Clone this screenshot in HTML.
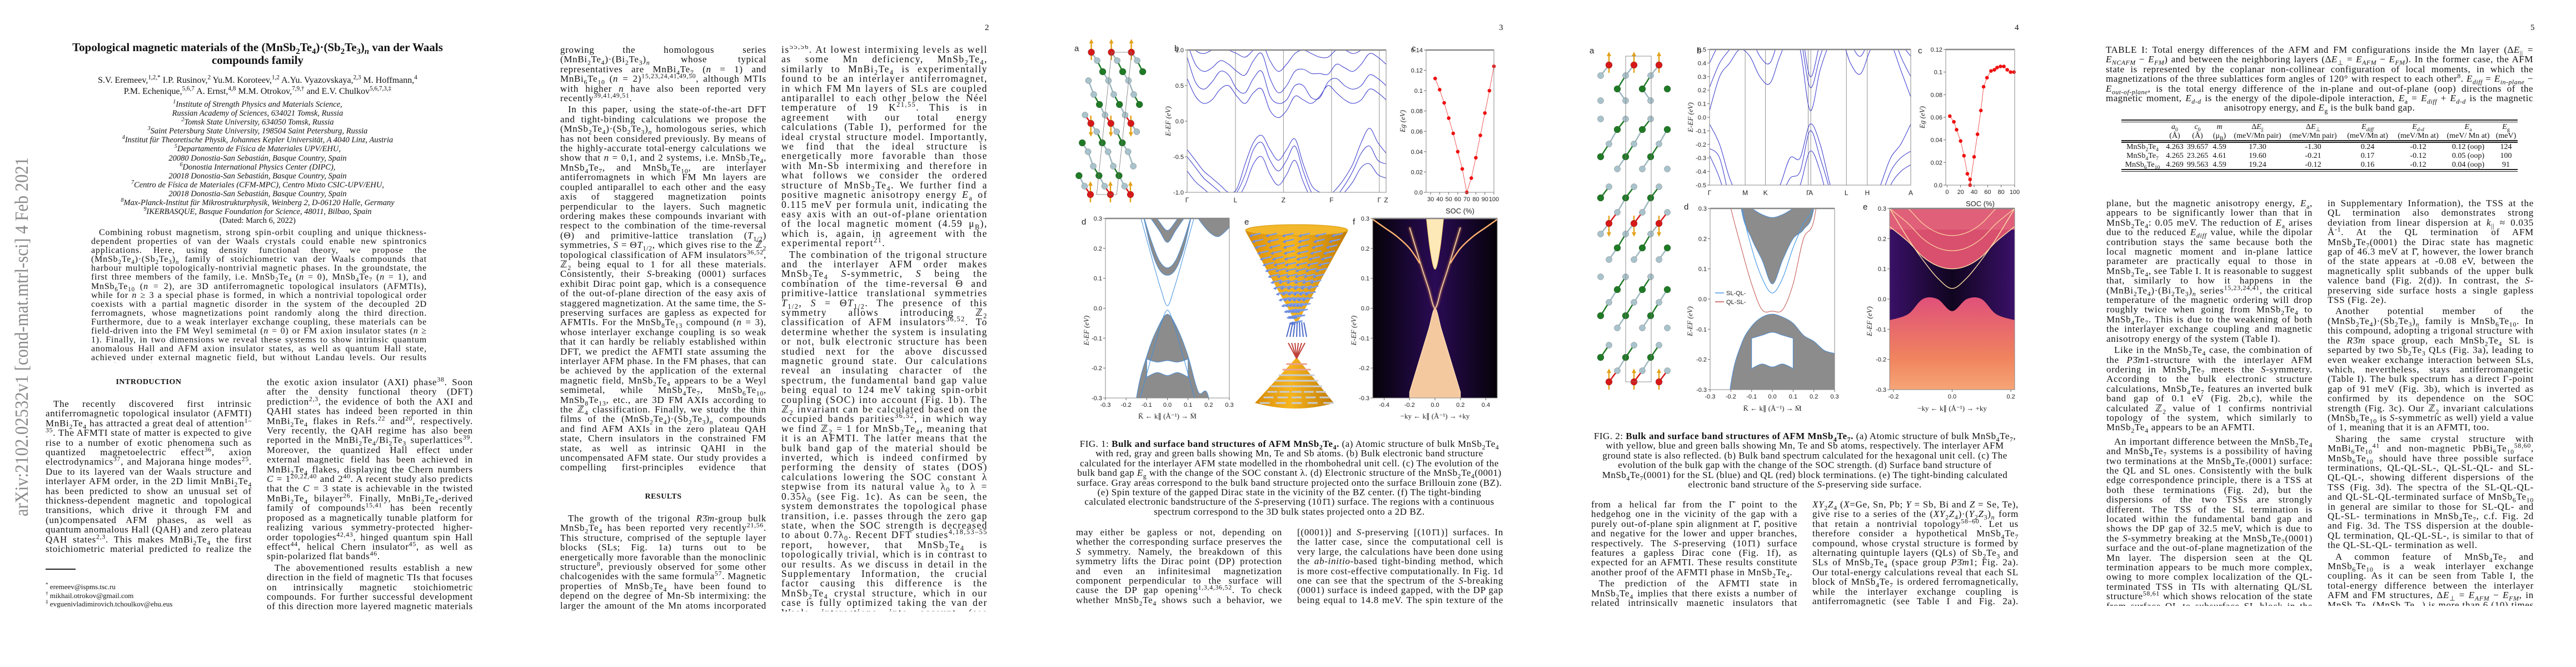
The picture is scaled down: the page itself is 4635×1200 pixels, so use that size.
<!DOCTYPE html>
<html><head><meta charset="utf-8">
<style>
body{margin:0;background:#fff;}
#page{position:relative;width:4635px;height:1200px;overflow:hidden;background:#fff;font-family:"Liberation Serif",serif;color:#111;}
.abs{position:absolute;}
.col{position:absolute;width:371px;font:17px/17.4px "Liberation Serif",serif;letter-spacing:0.7px;text-align:justify;overflow:hidden;}
.col p{margin:0 0 3px 0;text-indent:14px;}
sub,sup{line-height:0;font-size:70%;}
.pn{position:absolute;top:42px;font:15px "Liberation Serif",serif;}
.cap{position:absolute;font:17px/17.4px "Liberation Serif",serif;letter-spacing:0.5px;text-align:center;}
.head{position:absolute;font:bold 14px "Liberation Serif",serif;letter-spacing:0.5px;text-align:center;width:371px;}
#fig{position:absolute;left:0;top:0;}
table.t{border-collapse:collapse;font:14px/16px "Liberation Serif",serif;}
table.t td{padding:0;height:16px;white-space:nowrap;}
</style></head>
<body>
<div id="page">

<svg class="abs" style="left:0;top:0" width="70" height="1200">
<text x="0" y="0" transform="translate(50,929) rotate(-90)" textLength="646" lengthAdjust="spacingAndGlyphs" font-family="Liberation Serif" font-size="34" fill="#8a8a8a">arXiv:2102.02532v1  [cond-mat.mtrl-sci]  4 Feb 2021</text>
</svg>

<!-- PAGE 1 -->
<div class="abs" style="left:0;top:74px;width:927px;text-align:center;font:bold 21px/23px 'Liberation Serif',serif">Topological magnetic materials of the (MnSb<sub>2</sub>Te<sub>4</sub>)·(Sb<sub>2</sub>Te<sub>3</sub>)<sub><i>n</i></sub> van der Waals<br>compounds family</div>
<div class="abs" style="left:0;top:135px;width:927px;text-align:center;font:16px/20px 'Liberation Serif',serif">S.V. Eremeev,<sup>1,2,*</sup> I.P. Rusinov,<sup>2</sup> Yu.M. Koroteev,<sup>1,2</sup> A.Yu. Vyazovskaya,<sup>2,3</sup> M. Hoffmann,<sup>4</sup><br>P.M. Echenique,<sup>5,6,7</sup> A. Ernst,<sup>4,8</sup> M.M. Otrokov,<sup>7,9,†</sup> and E.V. Chulkov<sup>5,6,7,3,‡</sup></div>
<div class="abs" style="left:0;top:180px;width:927px;text-align:center;font:italic 14.5px/16.1px 'Liberation Serif',serif">
<sup>1</sup>Institute of Strength Physics and Materials Science,<br>Russian Academy of Sciences, 634021 Tomsk, Russia<br><sup>2</sup>Tomsk State University, 634050 Tomsk, Russia<br><sup>3</sup>Saint Petersburg State University, 198504 Saint Petersburg, Russia<br><sup>4</sup>Institut für Theoretische Physik, Johannes Kepler Universität, A 4040 Linz, Austria<br><sup>5</sup>Departamento de Física de Materiales UPV/EHU,<br>20080 Donostia-San Sebastián, Basque Country, Spain<br><sup>6</sup>Donostia International Physics Center (DIPC),<br>20018 Donostia-San Sebastián, Basque Country, Spain<br><sup>7</sup>Centro de Física de Materiales (CFM-MPC), Centro Mixto CSIC-UPV/EHU,<br>20018 Donostia-San Sebastián, Basque Country, Spain<br><sup>8</sup>Max-Planck-Institut für Mikrostrukturphysik, Weinberg 2, D-06120 Halle, Germany<br><sup>9</sup>IKERBASQUE, Basque Foundation for Science, 48011, Bilbao, Spain<br><span style="font-style:normal">(Dated: March 6, 2022)</span></div>
<div class="abs" style="left:164px;top:411px;width:604px;font:16px/16.1px 'Liberation Serif',serif;letter-spacing:0.8px;text-align:justify;text-indent:14px;height:242px;overflow:hidden">Combining robust magnetism, strong spin-orbit coupling and unique thickness-dependent properties of van der Waals crystals could enable new spintronics applications. Here, using density functional theory, we propose the (MnSb<sub>2</sub>Te<sub>4</sub>)·(Sb<sub>2</sub>Te<sub>3</sub>)<sub><i>n</i></sub> family of stoichiometric van der Waals compounds that harbour multiple topologically-nontrivial magnetic phases. In the groundstate, the first three members of the family, i.e. MnSb<sub>2</sub>Te<sub>4</sub> (<i>n</i> = 0), MnSb<sub>4</sub>Te<sub>7</sub> (<i>n</i> = 1), and MnSb<sub>6</sub>Te<sub>10</sub> (<i>n</i> = 2), are 3D antiferromagnetic topological insulators (AFMTIs), while for <i>n</i> ≥ 3 a special phase is formed, in which a nontrivial topological order coexists with a partial magnetic disorder in the system of the decoupled 2D ferromagnets, whose magnetizations point randomly along the third direction. Furthermore, due to a weak interlayer exchange coupling, these materials can be field-driven into the FM Weyl semimetal (<i>n</i> = 0) or FM axion insulator states (<i>n</i> ≥ 1). Finally, in two dimensions we reveal these systems to show intrinsic quantum anomalous Hall and AFM axion insulator states, as well as quantum Hall state, achieved under external magnetic field, but without Landau levels. Our results provide a solid computational proof that MnSb<sub>2</sub>Te<sub>4</sub> is not topologically trivial as was previously believed that opens possibilities of realization of a wealth of topologically-nontrivial states in the (MnSb<sub>2</sub>Te<sub>4</sub>)·(Sb<sub>2</sub>Te<sub>3</sub>)<sub><i>n</i></sub> family.</div>
<div class="head" style="left:82px;top:680px">INTRODUCTION</div>
<div class="col" style="left:82px;top:718px;height:280px"><p>The recently discovered first intrinsic antiferromagnetic topological insulator (AFMTI) MnBi<sub>2</sub>Te<sub>4</sub> has attracted a great deal of attention<sup>1–35</sup>. The AFMTI state of matter is expected to give rise to a number of exotic phenomena such as quantized magnetoelectric effect<sup>36</sup>, axion electrodynamics<sup>37</sup>, and Majorana hinge modes<sup>25</sup>. Due to its layered van der Waals structure and interlayer AFM order, in the 2D limit MnBi<sub>2</sub>Te<sub>4</sub> has been predicted to show an unusual set of thickness-dependent magnetic and topological transitions, which drive it through FM and (un)compensated AFM phases, as well as quantum anomalous Hall (QAH) and zero plateau QAH states<sup>2,3</sup>. This makes MnBi<sub>2</sub>Te<sub>4</sub> the first stoichiometric material predicted to realize the zero plateau QAH state intrinsically, which has been theoretically shown to host</p></div>
<div class="abs" style="left:82px;top:1023px;width:54px;height:2px;background:#222"></div>
<div class="abs" style="left:82px;top:1048px;font:13px/15.6px 'Liberation Serif',serif"><sup>*</sup> eremeev@ispms.tsc.ru<br><sup>†</sup> mikhail.otrokov@gmail.com<br><sup>‡</sup> evguenivladimirovich.tchoulkov@ehu.eus</div>
<div class="col" style="left:480px;top:679px;height:421px"><p style="text-indent:0">the exotic axion insulator (AXI) phase<sup>38</sup>. Soon after the density functional theory (DFT) prediction<sup>2,3</sup>, the evidence of both the AXI and QAHI states has indeed been reported in thin MnBi<sub>2</sub>Te<sub>4</sub> flakes in Refs.<sup>22</sup> and<sup>20</sup>, respectively. Very recently, the QAH regime has also been reported in the MnBi<sub>2</sub>Te<sub>4</sub>/Bi<sub>2</sub>Te<sub>3</sub> superlattices<sup>39</sup>. Moreover, the quantized Hall effect under external magnetic field has been achieved in MnBi<sub>2</sub>Te<sub>4</sub> flakes, displaying the Chern numbers <i>C</i> = 1<sup>20,22,40</sup> and 2<sup>40</sup>. A recent study also predicts that the <i>C</i> = 3 state is achievable in the twisted MnBi<sub>2</sub>Te<sub>4</sub> bilayer<sup>26</sup>. Finally, MnBi<sub>2</sub>Te<sub>4</sub>-derived family of compounds<sup>15,41</sup> has been recently proposed as a magnetically tunable platform for realizing various symmetry-protected higher-order topologies<sup>42,43</sup>, hinged quantum spin Hall effect<sup>44</sup>, helical Chern insulator<sup>45</sup>, as well as spin-polarized flat bands<sup>46</sup>.</p><p>The abovementioned results establish a new direction in the field of magnetic TIs that focuses on intrinsically magnetic stoichiometric compounds. For further successful development of this direction more layered magnetic materials need to be found. Currently, the quest for new MnBi<sub>2</sub>Te<sub>4</sub>-like systems follows the strategy of either codoping Bi sublattice with Sb<sup>18,21,47,48</sup> or</p></div>

<!-- PAGE 2 -->
<div class="pn" style="left:1772px">2</div>
<div class="col" style="left:1008px;top:81px;height:768px"><p style="text-indent:0">growing the homologous series (MnBi<sub>2</sub>Te<sub>4</sub>)·(Bi<sub>2</sub>Te<sub>3</sub>)<sub><i>n</i></sub> whose typical representatives are MnBi<sub>4</sub>Te<sub>7</sub> (<i>n</i> = 1) and MnBi<sub>6</sub>Te<sub>10</sub> (<i>n</i> = 2)<sup>15,23,24,41,49,50</sup>, although MTIs with higher <i>n</i> have also been reported very recently<sup>39,41,49,51</sup>.</p><p>In this paper, using the state-of-the-art DFT and tight-binding calculations we propose the (MnSb<sub>2</sub>Te<sub>4</sub>)·(Sb<sub>2</sub>Te<sub>3</sub>)<sub><i>n</i></sub> homologous series, which has not been considered previously. By means of the highly-accurate total-energy calculations we show that <i>n</i> = 0,1, and 2 systems, i.e. MnSb<sub>2</sub>Te<sub>4</sub>, MnSb<sub>4</sub>Te<sub>7</sub>, and MnSb<sub>6</sub>Te<sub>10</sub>, are interlayer antiferromagnets in which FM Mn layers are coupled antiparallel to each other and the easy axis of staggered magnetization points perpendicular to the layers. Such magnetic ordering makes these compounds invariant with respect to the combination of the time-reversal (Θ) and primitive-lattice translation (<i>T</i><sub>1/2</sub>) symmetries, <i>S</i> = Θ<i>T</i><sub>1/2</sub>, which gives rise to the ℤ<sub>2</sub> topological classification of AFM insulators<sup>36,52</sup>, ℤ<sub>2</sub> being equal to 1 for all these materials. Consistently, their <i>S</i>-breaking (0001) surfaces exhibit Dirac point gap, which is a consequence of the out-of-plane direction of the easy axis of staggered magnetization. At the same time, the <i>S</i>-preserving surfaces are gapless as expected for AFMTIs. For the MnSb<sub>8</sub>Te<sub>13</sub> compound (<i>n</i> = 3), whose interlayer exchange coupling is so weak that it can hardly be reliably established within DFT, we predict the AFMTI state assuming the interlayer AFM phase. In the FM phases, that can be achieved by the application of the external magnetic field, MnSb<sub>2</sub>Te<sub>4</sub> appears to be a Weyl semimetal, while MnSb<sub>4</sub>Te<sub>7</sub>, MnSb<sub>6</sub>Te<sub>10</sub>, MnSb<sub>8</sub>Te<sub>13</sub>, etc., are 3D FM AXIs according to the ℤ<sub>4</sub> classification. Finally, we study the thin films of the (MnSb<sub>2</sub>Te<sub>4</sub>)·(Sb<sub>2</sub>Te<sub>3</sub>)<sub><i>n</i></sub> compounds and find AFM AXIs in the zero plateau QAH state, Chern insulators in the constrained FM state, as well as intrinsic QAHI in the uncompensated AFM state. Our study provides a compelling first-principles evidence that MnSb<sub>2</sub>Te<sub>4</sub>, previously predicted to be trivial at normal conditions<sup>4,18,53–55</sup>, is, in fact, a topological insulator or Weyl semimetal in the AFM or FM states, respectively. These findings significantly extend the emergent family of the MTIs by predicting a number of solid materials candidates.</p></div>
<div class="head" style="left:1008px;top:886px">RESULTS</div>
<div class="col" style="left:1008px;top:924px;height:175px"><p>The growth of the trigonal <i>R</i>3̄<i>m</i>-group bulk MnSb<sub>2</sub>Te<sub>4</sub> has been reported very recently<sup>21,56</sup>. This structure, comprised of the septuple layer blocks (SLs; Fig. 1a) turns out to be energetically more favorable than the monoclinic structure<sup>8</sup>, previously observed for some other chalcogenides with the same formula<sup>57</sup>. Magnetic properties of MnSb<sub>2</sub>Te<sub>4</sub> have been found to depend on the degree of Mn-Sb intermixing: the larger the amount of the Mn atoms incorporated in the Sb layers, the stronger the tendency to the interlayer FM coupling</p></div>
<div class="col" style="left:1406px;top:81px;height:1019px;letter-spacing:1.5px;font-size:17.5px"><p style="text-indent:0">is<sup>55,56</sup>. At lowest intermixing levels as well as some Mn deficiency, MnSb<sub>2</sub>Te<sub>4</sub>, similarly to MnBi<sub>2</sub>Te<sub>4</sub> is experimentally found to be an interlayer antiferromagnet, in which FM Mn layers of SLs are coupled antiparallel to each other below the Néel temperature of 19 K<sup>21,55</sup>. This is in agreement with our total energy calculations (Table I), performed for the ideal crystal structure model. Importantly, we find that the ideal structure is energetically more favorable than those with Mn-Sb intermixing and therefore in what follows we consider the ordered structure of MnSb<sub>2</sub>Te<sub>4</sub>. We further find a positive magnetic anisotropy energy <i>E</i><sub>a</sub> of 0.115 meV per formula unit, indicating the easy axis with an out-of-plane orientation of the local magnetic moment (4.59 μ<sub>B</sub>), which is, again, in agreement with the experimental report<sup>21</sup>.</p><p>The combination of the trigonal structure and the interlayer AFM order makes MnSb<sub>2</sub>Te<sub>4</sub> <i>S</i>-symmetric, <i>S</i> being the combination of the time-reversal Θ and primitive-lattice translational symmetries <i>T</i><sub>1/2</sub>, <i>S</i> = Θ<i>T</i><sub>1/2</sub>. The presence of this symmetry allows introducing ℤ<sub>2</sub> classification of AFM insulators<sup>36,52</sup>. To determine whether the system is insulating or not, bulk electronic structure has been studied next for the above discussed magnetic ground state. Our calculations reveal an insulating character of the spectrum, the fundamental band gap value being equal to 124 meV taking spin-orbit coupling (SOC) into account (Fig. 1b). The ℤ<sub>2</sub> invariant can be calculated based on the occupied bands parities<sup>36,52</sup>, in which way we find ℤ<sub>2</sub> = 1 for MnSb<sub>2</sub>Te<sub>4</sub>, meaning that it is an AFMTI. The latter means that the bulk band gap of the material should be inverted, which is indeed confirmed by performing the density of states (DOS) calculations lowering the SOC constant λ stepwise from its natural value λ<sub>0</sub> to λ = 0.35λ<sub>0</sub> (see Fig. 1c). As can be seen, the system demonstrates the topological phase transition, i.e. passes through the zero gap state, when the SOC strength is decreased to about 0.7λ<sub>0</sub>. Recent DFT studies<sup>4,18,53–55</sup> report, however, that MnSb<sub>2</sub>Te<sub>4</sub> is topologically trivial, which is in contrast to our results. As we discuss in detail in the Supplementary Information, the crucial factor causing this difference is the MnSb<sub>2</sub>Te<sub>4</sub> crystal structure, which in our case is fully optimized taking the van der Waals interactions into account (see Methods section). To provide further support to our claim of the AFMTI state in MnSb<sub>2</sub>Te<sub>4</sub>, apart from the projector augmented wave method (PAW) calculations using VASP, we have performed DFT calculations using the full-potential linearized augmented plane-wave method (FLEUR code) as well as the Green's functions method (HUTSEPOT code). These calculations predict the band-inverted AFMTI phase in MnSb<sub>2</sub>Te<sub>4</sub> as well (Supplementary Information Figures S1 and S2).</p><p>The bulk edge correspondence dictates that the inverted bulk band gap gives rise to a 2D spin-polarized state at the material's surface, i.e. the topological surface state (TSS). In an AFMTI case, this state</p></div>

<!-- PAGE 3 -->
<div class="pn" style="left:2697px">3</div>
<div class="cap" style="left:1936px;top:790px;width:768px">FIG. 1: <b>Bulk and surface band structures of AFM MnSb<sub>2</sub>Te<sub>4</sub>.</b> (a) Atomic structure of bulk MnSb<sub>2</sub>Te<sub>4</sub> with red, gray and green balls showing Mn, Te and Sb atoms. (b) Bulk electronic band structure calculated for the interlayer AFM state modelled in the rhombohedral unit cell. (c) The evolution of the bulk band gap <i>E</i><sub>g</sub> with the change of the SOC constant λ. (d) Electronic structure of the MnSb<sub>2</sub>Te<sub>4</sub>(0001) surface. Gray areas correspond to the bulk band structure projected onto the surface Brillouin zone (BZ). (e) Spin texture of the gapped Dirac state in the vicinity of the BZ center. (f) The tight-binding calculated electronic bandstructure of the <i>S</i>-preserving (101̄1) surface. The regions with a continuous spectrum correspond to the 3D bulk states projected onto a 2D BZ.</div>
<div class="col" style="left:1936px;top:949px;height:141px"><p style="text-indent:0">may either be gapless or not, depending on whether the corresponding surface preserves the <i>S</i> symmetry. Namely, the breakdown of this symmetry lifts the Dirac point (DP) protection and even an infinitesimal magnetization component perpendicular to the surface will cause the DP gap opening<sup>1,3,4,36,52</sup>. To check whether MnSb<sub>2</sub>Te<sub>4</sub> shows such a behavior, we have calculated the electronic structures of the <i>S</i>-breaking</p></div>
<div class="col" style="left:2334px;top:949px;height:141px"><p style="text-indent:0">[(0001)] and <i>S</i>-preserving [(101̄1)] surfaces. In the latter case, since the computational cell is very large, the calculations have been done using the <i>ab-initio</i>-based tight-binding method, which is more cost-effective computationally. In Fig. 1d one can see that the spectrum of the <i>S</i>-breaking (0001) surface is indeed gapped, with the DP gap being equal to 14.8 meV. The spin texture of the gapped Dirac state (Fig. 1e) changes</p></div>

<!-- PAGE 4 -->
<div class="pn" style="left:3625px">4</div>
<div class="cap" style="left:2863px;top:776px;width:769px">FIG. 2: <b>Bulk and surface band structures of AFM MnSb<sub>4</sub>Te<sub>7</sub>.</b> (a) Atomic structure of bulk MnSb<sub>4</sub>Te<sub>7</sub>, with yellow, blue and green balls showing Mn, Te and Sb atoms, respectively. The interlayer AFM ground state is also reflected. (b) Bulk band spectrum calculated for the hexagonal unit cell. (c) The evolution of the bulk gap with the change of the SOC strength. (d) Surface band structure of MnSb<sub>4</sub>Te<sub>7</sub>(0001) for the SL (blue) and QL (red) block terminations. (e) The tight-binding calculated electronic band structure of the <i>S</i>-preserving side surface.</div>
<div class="col" style="left:2863px;top:899px;height:192px"><p style="text-indent:0">from a helical far from the Γ̄ point to the hedgehog one in the vicinity of the gap with a purely out-of-plane spin alignment at Γ̄, positive and negative for the lower and upper branches, respectively. The <i>S</i>-preserving (101̄1) surface features a gapless Dirac cone (Fig. 1f), as expected for an AFMTI. These results constitute another proof of the AFMTI phase in MnSb<sub>2</sub>Te<sub>4</sub>.</p><p>The prediction of the AFMTI state in MnSb<sub>2</sub>Te<sub>4</sub> implies that there exists a number of related intrinsically magnetic insulators that should be topologically nontrivial. Indeed, as a rule, compounds with a formula</p></div>
<div class="col" style="left:3261px;top:899px;height:192px"><p style="text-indent:0"><i>XY</i><sub>2</sub><i>Z</i><sub>4</sub> (<i>X</i>=Ge, Sn, Pb; <i>Y</i> = Sb, Bi and <i>Z</i> = Se, Te), give rise to a series of the (<i>XY</i><sub>2</sub><i>Z</i><sub>4</sub>)·(<i>Y</i><sub>2</sub><i>Z</i><sub>3</sub>)<sub><i>n</i></sub> form that retain a nontrivial topology<sup>58–60</sup>. Let us therefore consider a hypothetical MnSb<sub>4</sub>Te<sub>7</sub> compound, whose crystal structure is formed by alternating quintuple layers (QLs) of Sb<sub>2</sub>Te<sub>3</sub> and SLs of MnSb<sub>2</sub>Te<sub>4</sub> (space group <i>P</i>3̄<i>m</i>1; Fig. 2a). Our total-energy calculations reveal that each SL block of MnSb<sub>4</sub>Te<sub>7</sub> is ordered ferromagnetically, while the interlayer exchange coupling is antiferromagnetic (see Table I and Fig. 2a). Further calculations show that the system has an easy axis pointing out of the Mn</p></div>

<!-- PAGE 5 -->
<div class="pn" style="left:4553px">5</div>
<div class="cap" style="left:3789px;top:81px;width:769px;text-align:justify;text-align-last:center">TABLE I: Total energy differences of the AFM and FM configurations inside the Mn layer (Δ<i>E</i><sub>||</sub> = <i>E</i><sub><i>NCAFM</i></sub> − <i>E</i><sub><i>FM</i></sub>) and between the neighboring layers (Δ<i>E</i><sub>⊥</sub> = <i>E</i><sub><i>AFM</i></sub> − <i>E</i><sub><i>FM</i></sub>). In the former case, the AFM state is represented by the coplanar non-collinear configuration of local moments, in which the magnetizations of the three sublattices form angles of 120° with respect to each other<sup>8</sup>. <i>E</i><sub><i>diff</i></sub> = <i>E</i><sub><i>in-plane</i></sub> − <i>E</i><sub><i>out-of-plane</i></sub>, is the total energy difference of the in-plane and out-of-plane (oop) directions of the magnetic moment, <i>E</i><sub><i>d-d</i></sub> is the energy of the dipole-dipole interaction, <i>E</i><sub>a</sub> = <i>E</i><sub><i>diff</i></sub> + <i>E</i><sub><i>d-d</i></sub> is the magnetic anisotropy energy, and <i>E</i><sub>g</sub> is the bulk band gap.</div>
<div class="abs" style="left:3817px;top:215px;width:713px;height:96px">
<div class="abs" style="left:0;top:0;width:713px;height:1.5px;background:#222"></div>
<div class="abs" style="left:0;top:3.5px;width:713px;height:1.5px;background:#222"></div>
<div class="abs" style="left:0;top:37px;width:713px;height:1.5px;background:#222"></div>
<div class="abs" style="left:0;top:40px;width:713px;height:1.5px;background:#222"></div>
<div class="abs" style="left:0;top:89px;width:713px;height:1.5px;background:#222"></div>
<div class="abs" style="left:0;top:92.5px;width:713px;height:1.5px;background:#222"></div>
<table class="t abs" style="left:0;top:6px;width:713px;text-align:center;table-layout:fixed">
<colgroup><col style="width:76px"><col style="width:40px"><col style="width:42px"><col style="width:37px"><col style="width:100px"><col style="width:100px"><col style="width:96px"><col style="width:86px"><col style="width:94px"><col style="width:42px"></colgroup>
<tr><td></td><td><i>a</i><sub>0</sub></td><td><i>c</i><sub>0</sub></td><td><i>m</i></td><td>Δ<i>E</i><sub>||</sub></td><td>Δ<i>E</i><sub>⊥</sub></td><td><i>E</i><sub><i>diff</i></sub></td><td><i>E</i><sub><i>d-d</i></sub></td><td><i>E</i><sub>a</sub></td><td><i>E</i><sub>g</sub></td></tr>
<tr><td></td><td>(Å)</td><td>(Å)</td><td>(μ<sub>B</sub>)</td><td>(meV/Mn pair)</td><td>(meV/Mn pair)</td><td>(meV/Mn at)</td><td>(meV/Mn at)</td><td>(meV/ Mn at)</td><td>(meV)</td></tr>
<tr><td colspan="10" style="height:4px"></td></tr>
<tr><td>MnSb<sub>2</sub>Te<sub>4</sub></td><td>4.263</td><td>39.657</td><td>4.59</td><td>17.30</td><td>-1.30</td><td>0.24</td><td>-0.12</td><td>0.12 (oop)</td><td>124</td></tr>
<tr><td>MnSb<sub>4</sub>Te<sub>7</sub></td><td>4.265</td><td>23.265</td><td>4.61</td><td>19.60</td><td>-0.21</td><td>0.17</td><td>-0.12</td><td>0.05 (oop)</td><td>100</td></tr>
<tr><td>MnSb<sub>6</sub>Te<sub>10</sub></td><td>4.269</td><td>99.563</td><td>4.59</td><td>19.24</td><td>-0.12</td><td>0.16</td><td>-0.12</td><td>0.04 (oop)</td><td>91</td></tr>
</table></div>
<div class="col" style="left:3790px;top:357px;height:733px"><p style="text-indent:0">plane, but the magnetic anisotropy energy, <i>E</i><sub>a</sub>, appears to be significantly lower than that in MnSb<sub>2</sub>Te<sub>4</sub>: 0.05 meV. The reduction of <i>E</i><sub>a</sub> arises due to the reduced <i>E</i><sub><i>diff</i></sub> value, while the dipolar contribution stays the same because both the local magnetic moment and in-plane lattice parameter are practically equal to those in MnSb<sub>2</sub>Te<sub>4</sub>, see Table I. It is reasonable to suggest that, similarly to how it happens in the (MnBi<sub>2</sub>Te<sub>4</sub>)·(Bi<sub>2</sub>Te<sub>3</sub>)<sub><i>n</i></sub> series<sup>15,23,24,41</sup>, the critical temperature of the magnetic ordering will drop roughly twice when going from MnSb<sub>2</sub>Te<sub>4</sub> to MnSb<sub>4</sub>Te<sub>7</sub>. This is due to the weakening of both the interlayer exchange coupling and magnetic anisotropy energy of the system (Table I).</p><p>Like in the MnSb<sub>2</sub>Te<sub>4</sub> case, the combination of the <i>P</i>3̄<i>m</i>1-structure with the interlayer AFM ordering in MnSb<sub>4</sub>Te<sub>7</sub> meets the <i>S</i>-symmetry. According to the bulk electronic structure calculations, MnSb<sub>4</sub>Te<sub>7</sub> features an inverted bulk band gap of 0.1 eV (Fig. 2b,c), while the calculated ℤ<sub>2</sub> value of 1 confirms nontrivial topology of the system, which similarly to MnSb<sub>2</sub>Te<sub>4</sub> appears to be an AFMTI.</p><p style="margin-top:8px">An important difference between the MnSb<sub>2</sub>Te<sub>4</sub> and MnSb<sub>4</sub>Te<sub>7</sub> systems is a possibility of having two terminations at the MnSb<sub>4</sub>Te<sub>7</sub>(0001) surface: the QL and SL ones. Consistently with the bulk edge correspondence principle, there is a TSS at both these terminations (Fig. 2d), but the dispersions of the two TSSs are strongly different. The TSS of the SL termination is located within the fundamental band gap and shows the DP gap of 32.5 meV, which is due to the <i>S</i>-symmetry breaking at the MnSb<sub>4</sub>Te<sub>7</sub>(0001) surface and the out-of-plane magnetization of the Mn layer. The dispersion seen at the QL termination appears to be much more complex, owing to more complex localization of the QL-terminated TSS in TIs with alternating QL/SL structure<sup>58,61</sup> which shows relocation of the state from surface QL to subsurface SL block in the vicinity of the Γ̄ point. Such a behavior usually results in deviation of the TSS dispersion from linear near Γ̄ and even Dirac state can demonstrate strongly pronounced kink-like dispersion<sup>61</sup>. In MnSb<sub>4</sub>Te<sub>7</sub>, when the magnetic moments on Mn atoms are artificially constrained to zero (Fig. S3</p></div>
<div class="col" style="left:4188px;top:357px;height:733px"><p style="text-indent:0">in Supplementary Information), the TSS at the QL termination also demonstrates strong deviation from linear dispersion at <i>k</i><sub>||</sub> ≈ 0.035 Å<sup>-1</sup>. At the QL termination of AFM MnSb<sub>4</sub>Te<sub>7</sub>(0001) the Dirac state has magnetic gap of 46.3 meV at Γ̄, however, the lower branch of the state appears at -0.08 eV, between the magnetically split subbands of the upper bulk valence band (Fig. 2(d)). In contrast, the <i>S</i>-preserving side surface hosts a single gapless TSS (Fig. 2e).</p><p>Another potential member of the (MnSb<sub>2</sub>Te<sub>4</sub>)·(Sb<sub>2</sub>Te<sub>3</sub>)<sub><i>n</i></sub> family is MnSb<sub>6</sub>Te<sub>10</sub>. In this compound, adopting a trigonal structure with the <i>R</i>3̄<i>m</i> space group, each MnSb<sub>2</sub>Te<sub>4</sub> SL is separted by two Sb<sub>2</sub>Te<sub>3</sub> QLs (Fig. 3a), leading to even weaker exchange interaction between SLs, which, nevertheless, stays antiferromangetic (Table I). The bulk spectrum has a direct Γ-point gap of 91 meV (Fig. 3b), which is inverted as confirmed by its dependence on the SOC strength (Fig. 3c). Our ℤ<sub>2</sub> invariant calculations (MnSb<sub>6</sub>Te<sub>10</sub> is <i>S</i>-symmetric as well) yield a value of 1, meaning that it is an AFMTI, too.</p><p>Sharing the same crystal structure with MnBi<sub>6</sub>Te<sub>10</sub><sup>41</sup> and non-magnetic PbBi<sub>6</sub>Te<sub>10</sub><sup>58,60</sup>, MnSb<sub>6</sub>Te<sub>10</sub> should have three possible surface terminations, QL-QL-SL-, QL-SL-QL- and SL-QL-QL-, showing different dispersions of the TSS (Fig. 3d). The spectra of the SL-QL-QL- and QL-SL-QL-terminated surface of MnSb<sub>6</sub>Te<sub>10</sub> in general are similar to those for SL-QL- and QL-SL- terminations in MnSb<sub>4</sub>Te<sub>7</sub>, c.f. Fig. 2d and Fig. 3d. The TSS dispersion at the double-QL termination, QL-QL-SL-, is similar to that of the QL-SL-QL- termination as well.</p><p>A common feature of MnSb<sub>4</sub>Te<sub>7</sub> and MnSb<sub>6</sub>Te<sub>10</sub> is a weak interlayer exchange coupling. As it can be seen from Table I, the total-energy difference between the interlayer AFM and FM structures, Δ<i>E</i><sub>⊥</sub> = <i>E</i><sub><i>AFM</i></sub> − <i>E</i><sub><i>FM</i></sub>, in MnSb<sub>4</sub>Te<sub>7</sub> (MnSb<sub>6</sub>Te<sub>10</sub>) is more than 6 (10) times smaller than that in MnSb<sub>2</sub>Te<sub>4</sub>, indicating a dramatic drop in the interlayer exchange coupling strength due to insertion of one (two) Sb<sub>2</sub>Te<sub>3</sub> QL block(s) between each pair of MnSb<sub>2</sub>Te<sub>4</sub> SLs. With further increase in number of the Sb<sub>2</sub>Te<sub>3</sub> QL blocks to three and formation of the</p></div>

<svg id="fig" width="4635" height="1200">
<defs>
<linearGradient id="gDark1" x1="0" x2="1" y1="0" y2="0"><stop offset="0" stop-color="#050208"/><stop offset="0.5" stop-color="#2a0b55"/><stop offset="1" stop-color="#050208"/></linearGradient>
<linearGradient id="gDark2" x1="0" x2="1" y1="0" y2="0"><stop offset="0" stop-color="#3a1068"/><stop offset="0.5" stop-color="#10051f"/><stop offset="1" stop-color="#3a1068"/></linearGradient>
<linearGradient id="gOr2" x1="0" x2="0" y1="0" y2="1"><stop offset="0" stop-color="#e0507a"/><stop offset="0.5" stop-color="#f0845e"/><stop offset="1" stop-color="#fcc690"/></linearGradient>
<linearGradient id="gCone" x1="0" x2="1"><stop offset="0" stop-color="#d88a08"/><stop offset="0.45" stop-color="#f6b51e"/><stop offset="1" stop-color="#c07a06"/></linearGradient>
<filter id="glow"><feGaussianBlur stdDeviation="1.6"/></filter>
</defs>
</svg>
</div>

<script>
// ---------- DATA ----------
const soc1 = [35,40,45,50,55,60,65,70,75,80,85,90,95,100];
const gap1 = [0.112,0.101,0.088,0.073,0.058,0.040,0.023,0.0,0.014,0.034,0.056,0.078,0.100,0.124];
const gapTicks1 = [0,0.02,0.04,0.06,0.08,0.1,0.12,0.14];
const gapTickLabels1 = ['0.0','0.02','0.04','0.06','0.08','0.1','0.12','0.14'];
const socTicks1 = [30,40,50,60,70,80,90,100];
const soc2 = [4,10,14,20,25,30,34,34,40,45,50,54,59,65,70,74,79,84,89,94,99];
const gap2 = [0.061,0.056,0.049,0.039,0.026,0.010,0.005,0.0,0.025,0.045,0.066,0.087,0.095,0.101,0.102,0.104,0.105,0.105,0.102,0.100,0.100];
const gapTicks2 = [0,0.02,0.04,0.06,0.08,0.1,0.12];
const gapTickLabels2 = ['0.0','0.02','0.04','0.06','0.08','0.1','0.12'];
const socTicks2 = [0,20,40,60,80,100];
const kLabels1 = ['Γ','L','Z','F','Γ','Z'];
const kTickPos1 = [0,0.243,0.484,0.726,0.966,1.0];
const bands1 = [
 [0.6,0.35,0.25,0.3,0.45,0.5,0.35,0.25,0.4,0.45,0.15,0.05,0.15,0.35,0.3,0.25,0.35,0.5,0.4,0.3,0.25,0.3,0.45,0.4,0.3],
 [0.9,0.55,0.45,0.55,0.7,0.65,0.45,0.4,0.6,0.7,0.35,0.25,0.3,0.5,0.5,0.33,0.33,0.55,0.6,0.5,0.45,0.5,0.65,0.6,0.5],
 [1.1,0.8,0.7,0.75,0.85,0.8,0.7,0.65,0.85,0.95,0.6,0.4,0.5,0.7,0.73,0.67,0.67,0.66,0.8,0.75,0.7,0.8,0.95,0.9,0.8],
 [1.2,1.0,0.95,1.0,1.05,1.0,0.95,0.9,1.0,1.1,0.85,0.7,0.8,0.95,1.0,0.95,0.9,0.9,1.0,1.0,0.95,1.0,1.1,1.05,1.0],
 [-0.4,-0.55,-0.7,-0.8,-0.9,-1.0,-0.95,-0.6,-0.3,-0.2,-0.4,-0.55,-0.4,-0.25,-0.6,-0.9,-1.0,-1.05,-0.95,-0.8,-0.6,-0.3,-0.1,-0.3,-0.45],
 [-0.5,-0.65,-0.8,-0.9,-1.0,-1.1,-1.0,-0.75,-0.4,-0.3,-0.55,-0.7,-0.55,-0.35,-0.7,-1.0,-1.1,-1.1,-1.05,-0.9,-0.7,-0.45,-0.35,-0.55,-0.6],
 [-0.7,-0.85,-0.95,-1.05,-1.1,-1.2,-1.1,-0.9,-0.6,-0.5,-0.75,-0.9,-0.75,-0.55,-0.85,-1.1,-1.2,-1.2,-1.15,-1.0,-0.85,-0.65,-0.6,-0.75,-0.8]
];
const eTicks1 = [-1,-0.5,0,0.5,1];
const eTickLabels1 = ['-1.0','-0.5','0.0','0.5','1.0'];
const kLabels2 = ['Γ','M','K','Γ','A','L','H','A'];
const kTickPos2 = [0,0.177,0.278,0.49,0.503,0.68,0.784,1.0];
const bands2 = [
 [0.05,0.3,0.4,0.5,0.45,0.3,0.25,0.45,0.6,0.5,0.05,0.35,0.55,0.6,0.4,0.32,0.5,0.6,0.55,0.35,0.15],
 [0.22,0.4,0.5,0.6,0.6,0.45,0.4,0.6,0.7,0.6,0.22,0.45,0.65,0.7,0.55,0.45,0.6,0.7,0.65,0.45,0.3],
 [0.4,0.55,0.65,0.7,0.7,0.6,0.55,0.7,0.75,0.7,0.3,0.55,0.7,0.75,0.65,0.6,0.7,0.75,0.7,0.55,0.45],
 [-0.05,-0.2,-0.45,-0.6,-0.7,-0.7,-0.6,-0.5,-0.3,-0.3,-0.05,-0.2,-0.5,-0.7,-0.8,-0.8,-0.7,-0.5,-0.3,-0.2,-0.05],
 [-0.23,-0.3,-0.6,-0.8,-0.9,-0.85,-0.7,-0.6,-0.45,-0.4,-0.1,-0.3,-0.55,-0.85,-0.9,-0.9,-0.8,-0.6,-0.4,-0.3,-0.25],
 [-0.28,-0.45,-0.7,-0.9,-1,-1,-0.9,-0.75,-0.6,-0.5,-0.25,-0.4,-0.7,-1,-1,-1,-0.9,-0.7,-0.5,-0.4,-0.35]
];
const eTicks2 = [-0.5,-0.4,-0.3,-0.2,-0.1,0,0.1,0.2,0.3,0.4,0.5];
const eTickLabels2 = ['-0.5','-0.4','-0.3','-0.2','-0.1','0.0','0.1','0.2','0.3','0.4','0.5'];
const kSurf = [-0.3,-0.25,-0.2,-0.15,-0.1,-0.05,0,0.05,0.1,0.15,0.2,0.25,0.3];
const vbTop1 = [-0.6,-0.6,-0.6,-0.3,-0.16,-0.07,-0.02,-0.07,-0.16,-0.28,-0.3,-0.6,-0.6];
const kHole = [-0.1,-0.05,0,0.05,0.1];
const holeTop1 = [-0.17,-0.18,-0.175,-0.18,-0.17];
const holeBot1 = [-0.23,-0.215,-0.225,-0.215,-0.23];
const kPocket = [-0.12,-0.08,-0.04,0,0.04,0.08,0.12];
const pocketLow1 = [0.32,0.2,0.13,0.11,0.13,0.2,0.32];
const pocketHigh1 = [0.32,0.23,0.16,0.135,0.16,0.23,0.32];
const pocket2Low1 = [0.34,0.3,0.26,0.22,0.26,0.3,0.34];
const pocket2High1 = [0.34,0.33,0.29,0.26,0.29,0.33,0.34];
const kRight = [0.13,0.17,0.21,0.25,0.3];
const rightLow1 = [0.32,0.28,0.25,0.24,0.27];
const rightHigh1 = [0.32,0.31,0.3,0.3,0.3];
const kDirac = [-0.14,-0.1,-0.06,-0.03,0,0.03,0.06,0.1,0.14];
const dsUp1 = [0.33,0.23,0.13,0.06,0.008,0.06,0.13,0.23,0.33];
const dsDn1 = [-0.32,-0.22,-0.12,-0.05,-0.006,-0.05,-0.12,-0.22,-0.32];
const eTicksS = [-0.3,-0.2,-0.1,0,0.1,0.2,0.3];
const eTickLabelsS = ['-0.3','-0.2','-0.1','0.0','0.1','0.2','0.3'];
const kTicksS = [-0.3,-0.2,-0.1,0,0.1,0.2,0.3];
const kTickLabelsS = ['-0.3','-0.2','-0.1','0.0','0.1','0.2','0.3'];
const vbTop2 = [-0.6,-0.6,-0.28,-0.15,-0.09,-0.06,-0.05,-0.06,-0.08,-0.12,-0.14,-0.17,-0.18];
const cbLow2 = [0.6,0.6,0.6,0.3,0.2,0.13,0.05,0.13,0.2,0.23,0.3,0.6,0.6];
const slLine2 = [0.6,0.6,0.6,0.32,0.17,0.07,0.02,0.07,0.17,0.25,0.32,0.6,0.6];
const qlLine2 = [0.7,0.45,0.3,0.17,0.05,-0.035,-0.04,-0.035,0.05,0.2,0.26,0.5,0.7];
const kHeat1 = [-0.2,-0.15,-0.1,-0.05,0,0.05,0.1,0.15,0.2];
const vCone1 = [-0.28,-0.21,-0.14,-0.07,0,-0.07,-0.14,-0.21,-0.28];
const dirac1 = [0.27,0.2,0.13,0.065,0,0.065,0.13,0.2,0.27];
const kHeat2 = [-0.213,-0.15,-0.1,-0.05,0,0.05,0.1,0.15,0.213];
const vTop2 = [-0.07,-0.05,0.0,0.0,-0.04,0.0,0.0,-0.05,-0.07];
const cBot2 = [0.24,0.19,0.14,0.11,0.1,0.11,0.14,0.19,0.24];
const dirac2 = [0.3,0.2,0.13,0.07,0.035,0.07,0.13,0.2,0.3];
const kTicks1f = [-0.4,-0.2,0,0.2,0.4];
const kTickLabels1f = ['-0.4','-0.2','0.0','0.2','0.4'];
const kTicks2e = [-0.2,0,0.2];
const kTickLabels2e = ['-0.2','0.0','0.2'];

// ---------- DRAW ----------
const NS='http://www.w3.org/2000/svg';
const svg=document.getElementById('fig');
function mk(tag,attrs,parent){const e=document.createElementNS(NS,tag);for(const k in attrs)e.setAttribute(k,attrs[k]);(parent||svg).appendChild(e);return e;}
function lin(d0,d1,r0,r1){return v=>r0+(v-d0)/(d1-d0)*(r1-r0);}
function smooth(pts){let d='M'+pts[0][0]+','+pts[0][1];for(let i=0;i<pts.length-1;i++){const p0=pts[Math.max(0,i-1)],p1=pts[i],p2=pts[i+1],p3=pts[Math.min(pts.length-1,i+2)];const c1x=p1[0]+(p2[0]-p0[0])/6,c1y=p1[1]+(p2[1]-p0[1])/6,c2x=p2[0]-(p3[0]-p1[0])/6,c2y=p2[1]-(p3[1]-p1[1])/6;d+=' C'+c1x+','+c1y+' '+c2x+','+c2y+' '+p2[0]+','+p2[1];}return d;}
function txt(x,y,s,opt,parent){const t=mk('text',Object.assign({x:x,y:y,'font-family':'Liberation Sans, sans-serif','font-size':11,fill:'#222'},opt||{}),parent);t.textContent=s;return t;}
let clipN=0;
function clip(x0,y0,w,h){const id='c'+(clipN++);const c=mk('clipPath',{id:id},svg.querySelector('defs'));mk('rect',{x:x0,y:y0,width:w,height:h},c);return 'url(#'+id+')';}
function frame(x0,y0,x1,y1,name){const r=mk('rect',{x:x0,y:y0,width:x1-x0,height:y1-y0,fill:'none',stroke:'#888','stroke-width':1});mk('line',{x1:x0,y1:y0,x2:x1,y2:y0,stroke:'#888','stroke-width':2.5});}
function yTicks(x0,sy,vals,labels,name){vals.forEach((v,i)=>{mk('line',{x1:x0-4,y1:sy(v),x2:x0,y2:sy(v),stroke:'#666'});const t=txt(x0-6,sy(v)+4,labels[i],{'text-anchor':'end'});});}
function xTicks(y1,sx,vals,labels,name){vals.forEach((v,i)=>{mk('line',{x1:sx(v),y1:y1,x2:sx(v),y2:y1+4,stroke:'#666'});const t=txt(sx(v),y1+16,labels[i],{'text-anchor':'middle'});});}
function panelLabel(x,y,s){const t=txt(x,y,s,{'font-size':15});}
function yTitle(x,y,s,name){const t=mk('text',{x:0,y:0,transform:'translate('+x+','+y+') rotate(-90)','font-family':'Liberation Serif, serif','font-style':'italic','font-size':13,'text-anchor':'middle',fill:'#222'});t.textContent=s;}

function bandPanel(x0,y0,x1,y1,emin,emax,kpos,klabels,bands,ticks,tlabels,name){
 const sx=lin(0,1,x0,x1),sy=lin(emin,emax,y1,y0);
 const cp=clip(x0,y0,x1-x0,y1-y0);
 kpos.forEach(k=>{mk('line',{x1:sx(k),y1:y0,x2:sx(k),y2:y1,stroke:'#777','stroke-width':0.8});});
 bands.forEach((b,bi)=>{const pts=b.map((e,i)=>[sx(i/(b.length-1)),sy(e)]);const p=mk('path',{d:smooth(pts),fill:'none',stroke:'#3333cc','stroke-width':1,'clip-path':cp});});
 frame(x0,y0,x1,y1,name+'-axes');
 yTicks(x0,sy,ticks,tlabels,name+'-y');
 klabels.forEach((l,i)=>{const t=txt(sx(kpos[i]),y1+18,l,{'text-anchor':'middle','font-size':12});});
 yTitle(x0-30,(y0+y1)/2,'E-EF (eV)',name+'-y-title');
}
function scatterPanel(x0,y0,x1,y1,xmin,xmax,ymax,xs,ys,yt,ytl,xt,name){
 const sx=lin(xmin,xmax,x0,x1),sy=lin(0,ymax,y1,y0);
 const pts=xs.map((v,i)=>[sx(v),sy(ys[i])]);
 const pl=mk('polyline',{points:pts.map(p=>p.join(',')).join(' '),fill:'none',stroke:'#e33','stroke-width':0.8});
 pts.forEach(p=>{const c=mk('circle',{cx:p[0],cy:p[1],r:3.3,fill:'#ee1111'});});
 frame(x0,y0,x1,y1,name+'-axes');
 yTicks(x0,sy,yt,ytl,name+'-y');
 xTicks(y1,sx,xt,xt.map(String),name+'-x');
 const t=txt((x0+x1)/2,y1+38,'SOC (%)',{'text-anchor':'middle','font-size':13});
 yTitle(x0-38,(y0+y1)/2,'Eg (eV)',name+'-y-title');
}
function crystal(rows,x0,dx,slant,name){
 const col={Mn:'#d81818',Te:'#a9c3cc',Sb:'#1f7a25'};
 const g=mk('g',{});
 rows.forEach(r=>{const ph=r.p;r.xs=[];for(let j=0;j<3;j++){r.xs.push(x0+ph*dx/3+j*dx+slant*(r.y));}});
 rows.forEach((r,i)=>{if(i===0)return;const q=rows[i-1];if(r.y-q.y>26)return;r.xs.forEach(x=>{q.xs.forEach(x2=>{if(Math.abs(x-x2)<dx*0.6)mk('line',{x1:x,y1:r.y,x2:x2,y2:q.y,stroke:r.t==='Te'?'#9fb8bf':col[r.t],'stroke-width':2.5},g);});});});
 rows.forEach(r=>{r.xs.forEach(x=>{if(r.t==='Mn'){mk('line',{x1:x,y1:r.y-(r.up?20:-20),x2:x,y2:r.y+(r.up?14:-14),stroke:'#e3a21a','stroke-width':2.5},g);mk('polygon',{points:r.up?(x-4)+','+(r.y-16)+' '+(x+4)+','+(r.y-16)+' '+x+','+(r.y-24):(x-4)+','+(r.y+16)+' '+(x+4)+','+(r.y+16)+' '+x+','+(r.y+24),fill:'#e3a21a'},g);}mk('circle',{cx:x,cy:r.y,r:r.t==='Te'?5.5:6,fill:col[r.t],stroke:'#333','stroke-width':0.3},g);});});
}
const rows1=[{t:'Mn',y:94,p:0,up:1},{t:'Te',y:109,p:1},{t:'Sb',y:129,p:2},{t:'Te',y:145,p:0},{t:'Te',y:170,p:1},{t:'Sb',y:188,p:2},{t:'Te',y:207,p:0},{t:'Mn',y:222,p:1,up:0},{t:'Te',y:237,p:2},{t:'Sb',y:257,p:0},{t:'Te',y:273,p:1},{t:'Te',y:299,p:2},{t:'Sb',y:316,p:0},{t:'Te',y:335,p:1},{t:'Mn',y:350,p:2,up:1}];
crystal(rows1,1973,36,-0.1,'fig1a-crystal-structure');
mk('rect',{x:1990,y:94,width:36,height:256,fill:'none',stroke:'#777','stroke-width':0.8,transform:'skewX(-6) translate(20,0)'});
const rows2=[{t:'Mn',y:117,p:1,up:1},{t:'Te',y:136,p:0},{t:'Sb',y:160,p:2},{t:'Te',y:181,p:0},{t:'Te',y:214,p:0},{t:'Sb',y:233,p:2},{t:'Te',y:259,p:1},{t:'Sb',y:282,p:0},{t:'Te',y:304,p:2},{t:'Te',y:336,p:1},{t:'Sb',y:356,p:0},{t:'Te',y:382,p:2},{t:'Mn',y:402,p:1,up:0},{t:'Te',y:421,p:0},{t:'Sb',y:446,p:2},{t:'Te',y:467,p:1},{t:'Te',y:498,p:0},{t:'Sb',y:521,p:2},{t:'Te',y:544,p:1},{t:'Sb',y:568,p:0},{t:'Te',y:590,p:2},{t:'Te',y:621,p:1},{t:'Sb',y:643,p:0},{t:'Te',y:667,p:2},{t:'Mn',y:687,p:1,up:1}];
crystal(rows2,2880,45,0,'fig2a-crystal-structure');
mk('rect',{x:2925,y:101,width:46,height:586,fill:'none',stroke:'#777','stroke-width':0.8});

panelLabel(1933,92,'a');panelLabel(2113,92,'b');panelLabel(2540,92,'c');
bandPanel(2136,90,2494,346,-1,1,kTickPos1,kLabels1,bands1,eTicks1,eTickLabels1,'fig1b');
scatterPanel(2566,90,2688,346,25,100,0.14,soc1,gap1,gapTicks1,gapTickLabels1,socTicks1,'fig1c');
panelLabel(2860,96,'a');panelLabel(3053,96,'b');panelLabel(3451,96,'c');
bandPanel(3076,89,3438,333,-0.5,0.5,kTickPos2,kLabels2,bands2,eTicks2,eTickLabels2,'fig2b');
scatterPanel(3501,89,3625,333,-2,100,0.12,soc2,gap2,gapTicks2,gapTickLabels2,socTicks2,'fig2c');

function area(kx,lo,hi,sx,sy,fill,cp,name){const pts=kx.map((k,i)=>[sx(k),sy(hi[i])]);const pts2=kx.map((k,i)=>[sx(k),sy(lo[i])]).reverse();const d=smooth(pts)+' L'+pts2[0][0]+','+pts2[0][1]+smooth(pts2).slice(1).replace(/^[^C]*/,' ')+' Z';const p=mk('path',{d:d,fill:fill,stroke:'#4a8ed8','stroke-width':1,'clip-path':cp});return p;}
function curve(kx,e,sx,sy,color,w,cp,name,extra){const p=mk('path',Object.assign({d:smooth(kx.map((k,i)=>[sx(k),sy(e[i])])),fill:'none',stroke:color,'stroke-width':w,'clip-path':cp},extra||{}));return p;}
function kTitle(x,y,name,s){const t=mk('text',{x:x,y:y,'font-family':'Liberation Serif, serif','font-size':13,'text-anchor':'middle',fill:'#222'});t.textContent=s;}

// Fig 1d
(function(){const x0=1989,x1=2212,y0=393,y1=716;const sx=lin(-0.3,0.3,x0,x1),sy=lin(-0.3,0.3,y1,y0);const cp=clip(x0,y0,x1-x0,y1-y0);
 const low=kSurf.map(()=>-0.6);
 area(kSurf,low,vbTop1,sx,sy,'#8c8c8c',cp,'fig1d-valence-projection');
 area(kHole,holeBot1,holeTop1,sx,sy,'#fff',cp,'fig1d-valence-gap');
 area(kPocket,pocketLow1,pocketHigh1,sx,sy,'#8c8c8c',cp,'fig1d-conduction-pocket-1');
 area(kPocket,pocket2Low1,pocket2High1,sx,sy,'#8c8c8c',cp,'fig1d-conduction-pocket-2');
 area(kRight,rightLow1,rightHigh1,sx,sy,'#8c8c8c',cp,'fig1d-conduction-right');
 curve(kDirac,dsUp1,sx,sy,'#3d8fe0',1,cp,'fig1d-dirac-upper');
 curve(kDirac,dsDn1,sx,sy,'#3d8fe0',1,cp,'fig1d-dirac-lower');
 frame(x0,y0,x1,y1,'fig1d-axes');yTicks(x0,sy,eTicksS,eTickLabelsS,'fig1d-y');xTicks(y1,sx,kTicksS,kTickLabelsS,'fig1d-x');
 kTitle((x0+x1)/2,y1+37,'fig1d-x-title','K̄ ← k∥ (Å⁻¹) → M̄');yTitle(x0-30,(y0+y1)/2+40,'E-EF (eV)','fig1d-y-title');
 panelLabel(1946,404,'d');panelLabel(2239,404,'e');panelLabel(2434,404,'f');})();

// Fig 1e cone
(function(){const g=mk('g',{});
 mk('path',{d:'M2241,416 Q2333,396 2425,416 L2333,583 Z',fill:'url(#gCone)'},g);
 mk('ellipse',{cx:2333,cy:414,rx:92,ry:10,fill:'#f2b72a',stroke:'#d99a10'},g);
 for(let r=0;r<16;r++){const y=422+r*10.5;const half=92*(1-(y-416)/167);for(let j=0;j<6;j++){const x=2333-half+(j+0.5)*(2*half/6);mk('line',{x1:x+9,y1:y-2,x2:x-9,y2:y+2,stroke:'#7f9de6','stroke-width':2.6},g);mk('polygon',{points:(x-12)+','+(y+3)+' '+(x-6)+','+(y-1)+' '+(x-6)+','+(y+5),fill:'#6c8be0'},g);}}
 for(let j=0;j<7;j++){const x=2322+j*4;mk('line',{x1:x,y1:580,x2:2333+(j-3)*6,y2:606,stroke:'#4a68c8','stroke-width':2},g);}
 mk('path',{d:'M2333,643 L2400,725 Q2333,745 2258,725 Z',fill:'url(#gCone)'},g);
 for(let j=0;j<6;j++){mk('line',{x1:2333,y1:645,x2:2318+j*6,y2:617,stroke:'#c0403a','stroke-width':2},g);}
 for(let r=0;r<8;r++){const y=655+r*10;const half=12+r*8.5;for(let j=0;j<5;j++){const x=2333-half+(j+0.5)*(2*half/5);const c=r<2?'#e8a090':'#c8ccd4';mk('line',{x1:x-9,y1:y,x2:x+9,y2:y,stroke:c,'stroke-width':3},g);}}})();

// Fig 1f heatmap
(function(){const x0=2470,x1=2694,y0=393,y1=716;const sx=lin(-0.49,0.49,x0,x1),sy=lin(-0.3,0.3,y1,y0);const cp=clip(x0,y0,x1-x0,y1-y0);
 const bg=mk('rect',{x:x0,y:y0,width:x1-x0,height:y1-y0,fill:'url(#gDark1)'});
 const low=kHeat1.map(()=>-0.4);
 const p=area(kHeat1,low,vCone1,sx,sy,'#f5c9a0',cp,'fig1f-bulk-valence-continuum');p.setAttribute('stroke','#ffe7b8');
 const q=area([-0.08,-0.04,0,0.04,0.08],[0.35,0.2,0.13,0.2,0.35],[0.35,0.35,0.35,0.35,0.35],sx,sy,'#fde9b8',cp,'fig1f-bulk-conduction-continuum');q.setAttribute('stroke','#ffd070');
 curve(kHeat1,dirac1,sx,sy,'#ff9a50',4,cp,'fig1f-dirac-glow',{opacity:0.6,filter:'url(#glow)'});
 curve(kHeat1,dirac1,sx,sy,'#fff0c0',1.3,cp,'fig1f-dirac-cone');
 curve([-0.5,-0.4,-0.3,-0.2,-0.12],[0.3,0.27,0.24,0.2,0.15],sx,sy,'#ffb070',2.5,cp,'fig1f-band-left');
 curve([0.12,0.2,0.3,0.4,0.5],[0.15,0.2,0.24,0.27,0.3],sx,sy,'#ffb070',2.5,cp,'fig1f-band-right');
 frame(x0,y0,x1,y1,'fig1f-axes');yTicks(x0,sy,eTicksS,eTickLabelsS,'fig1f-y');xTicks(y1,sx,kTicks1f,kTickLabels1f,'fig1f-x');
 kTitle((x0+x1)/2,y1+37,'fig1f-x-title','−ky ← k∥ (Å⁻¹) → +ky');yTitle(x0-30,(y0+y1)/2+40,'E-EF (eV)','fig1f-y-title');})();

// Fig 2d
(function(){const x0=3077,x1=3301,y0=375,y1=701;const sx=lin(-0.3,0.3,x0,x1),sy=lin(-0.3,0.3,y1,y0);const cp=clip(x0,y0,x1-x0,y1-y0);
 const low=kSurf.map(()=>-0.6);
 area(kSurf,low,vbTop2,sx,sy,'#8c8c8c',cp,'fig2d-valence-projection');
 area(kHole,holeBot1,[-0.13,-0.12,-0.11,-0.12,-0.13],sx,sy,'#fff',cp,'fig2d-valence-gap');
 const hi=kSurf.map(()=>0.6);
 area(kSurf,cbLow2,hi,sx,sy,'#8c8c8c',cp,'fig2d-conduction-projection');
 area([-0.1,-0.05,0,0.05,0.1],[0.3,0.28,0.27,0.28,0.3],[0.6,0.6,0.6,0.6,0.6],sx,sy,'#fff',cp,'fig2d-conduction-gap');
 curve(kSurf,slLine2,sx,sy,'#4a9be8',1.2,cp,'fig2d-sl-termination-state');
 curve(kSurf,qlLine2,sx,sy,'#c0504a',1,cp,'fig2d-ql-termination-state');
 frame(x0,y0,x1,y1,'fig2d-axes');yTicks(x0,sy,eTicksS,eTickLabelsS,'fig2d-y');xTicks(y1,sx,kTicksS,kTickLabelsS,'fig2d-x');
 kTitle((x0+x1)/2,y1+38,'fig2d-x-title','K̄ ← k∥ (Å⁻¹) → M̄');yTitle(x0-32,(y0+y1)/2+40,'E-EF (eV)','fig2d-y-title');
 const lg=mk('g',{});
 mk('line',{x1:3086,y1:527,x2:3102,y2:527,stroke:'#4a9be8','stroke-width':1.5},lg);mk('line',{x1:3086,y1:543,x2:3102,y2:543,stroke:'#c0504a','stroke-width':1.5},lg);
 txt(3106,531,'SL-QL-',{},lg);txt(3106,547,'QL-SL-',{},lg);
 panelLabel(3030,377,'d');panelLabel(3352,377,'e');})();

// Fig 2e heatmap
(function(){const x0=3400,x1=3625,y0=375,y1=701;const sx=lin(-0.213,0.213,x0,x1),sy=lin(-0.3,0.3,y1,y0);const cp=clip(x0,y0,x1-x0,y1-y0);
 const bg=mk('rect',{x:x0,y:y0,width:x1-x0,height:y1-y0,fill:'url(#gDark2)'});
 const low=kHeat2.map(()=>-0.4);
 const p=area(kHeat2,low,vTop2,sx,sy,'url(#gOr2)',cp,'fig2e-bulk-valence-continuum');p.setAttribute('stroke','none');
 const top=kHeat2.map(()=>0.4);
 const q=area(kHeat2,cBot2,top,sx,sy,'#d8506e',cp,'fig2e-bulk-conduction-continuum');q.setAttribute('stroke','none');
 mk('rect',{x:x0,y:y0,width:x1-x0,height:sy(0.23)-y0,fill:'#e0607a','clip-path':cp});
 curve(kHeat2,dirac2,sx,sy,'#ffe0a8',1.4,cp,'fig2e-dirac-cone');
 curve(kHeat2,cBot2,sx,sy,'#ffe0a8',1.4,cp,'fig2e-conduction-edge');
 curve(kHeat2,cBot2.map(v=>v+0.06),sx,sy,'#ffd9a0',1.2,cp,'fig2e-band-2');
 curve(kHeat2,cBot2.map(v=>v+0.11),sx,sy,'#ffd9a0',1.2,cp,'fig2e-band-3');
 frame(x0,y0,x1,y1,'fig2e-axes');yTicks(x0,sy,eTicksS,eTickLabelsS,'fig2e-y');xTicks(y1,sx,kTicks2e,kTickLabels2e,'fig2e-x');
 kTitle((x0+x1)/2,y1+38,'fig2e-x-title','−ky ← k∥ (Å⁻¹) → +ky');yTitle(x0-32,(y0+y1)/2+40,'E-EF (eV)','fig2e-y-title');})();
</script>
</body></html>
